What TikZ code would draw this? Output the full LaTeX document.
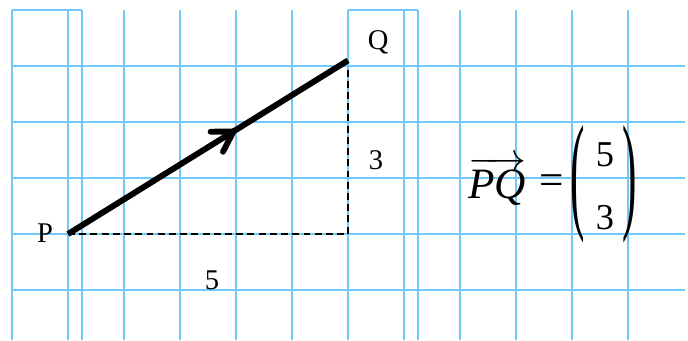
\documentclass[tikz,border=0pt]{standalone}
\usepackage{graphicx}
\usepackage{fontspec}
\setmainfont{Liberation Serif}
\usetikzlibrary{arrows.meta,decorations.markings}

\definecolor{gridblue}{RGB}{110,200,250}

\begin{document}
\begin{tikzpicture}[
        grid line/.style = {draw=gridblue, line width=0.8pt},
        vector line/.style = {
            line width=3pt,
            postaction=decorate,
            decoration={markings,
                mark=at position 0.6 with {\arrow{Straight Barb[length=3.5mm, width=4.2mm, round]}}}},
        leg line/.style = {dash pattern=on 3.5pt off 2.2pt, line width=0.8pt},
        lbl/.style = {font=\fontsize{14.5}{17}\selectfont, inner sep=0pt},
        big/.style = {font=\fontsize{22}{26}\selectfont, inner sep=0pt},
        entry/.style = {font=\fontsize{18.5}{22}\selectfont, inner sep=0pt}
    ]
    \useasboundingbox (-1.214,-1.893) rectangle (11.071,4.179);
    % squared paper
    \foreach \x in {-1,0,0.25,1,2,3,4,5,6,6.25,7,8,9,10}
        \draw[grid line] (\x,4) -- (\x,-1.893);
    \foreach \y in {-1,0,1,2,3}
        \draw[grid line] (-1,\y) -- (11.02,\y);
    \draw[grid line] (-1,4) -- (0.25,4);
    \draw[grid line] (5,4) -- (6.25,4);

    \coordinate (P) at (0,0);
    \coordinate (Q) at (5,3.1);
    \coordinate (T) at (5,3);
    \coordinate (R) at (5,0);
    \draw[leg line] (P) -- (R) -- (T);
    \draw[vector line] (P) -- (Q);

    \node[lbl] (p label) at (-0.41,0.02) {P};
    \node[lbl] (q label) at (5.54,3.43) {Q};
    \node[lbl] (dy label) at (5.5,1.32) {3};
    \node[lbl] (dx label) at (2.57,-0.82) {5};

    % column vector
    \node[big, anchor=base west] (pq) at (7.14,0.64) {$\overrightarrow{\textit{PQ}}$};
    \node[big] (eq) at (8.63,0.875) {=};
    \node[big] (left paren) at (9.11,0.884) {\scalebox{1}[3.0]{(}};
    \node[big] (right paren) at (10.03,0.884) {\scalebox{1}[3.0]{)}};
    \node[entry] (top entry) at (9.59,1.41) {5};
    \node[entry] (bottom entry) at (9.59,0.286) {3};
\end{tikzpicture}
\end{document}
